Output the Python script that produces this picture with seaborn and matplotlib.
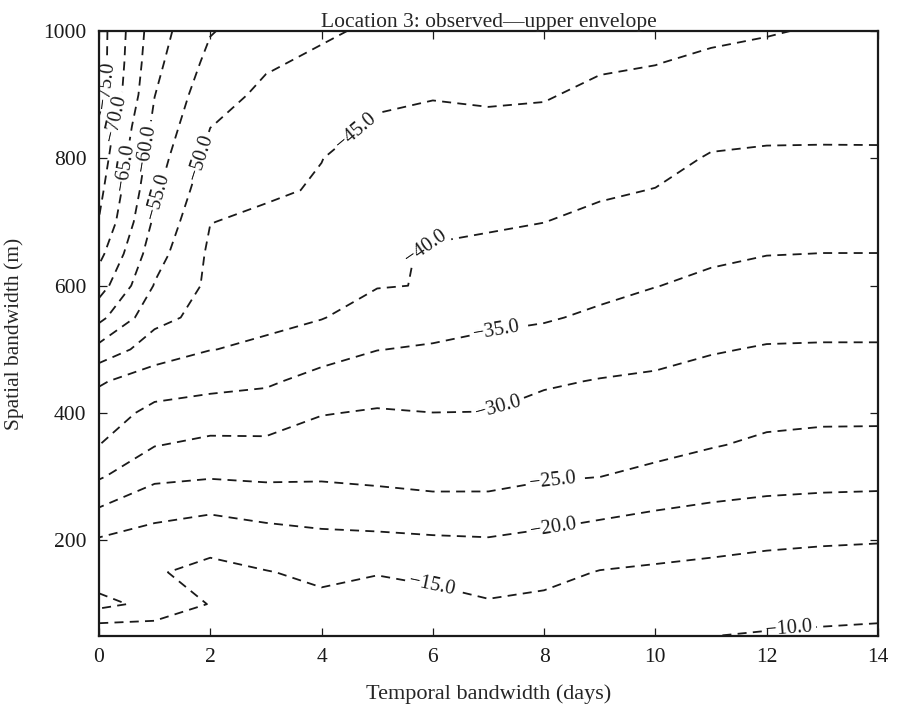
import numpy as np
import matplotlib
matplotlib.use("Agg")
import matplotlib.pyplot as plt
import seaborn as sns

# Grid: temporal bandwidth (days) x spatial bandwidth (m)
days = list(range(0, 15))
spatial = list(range(50, 1001, 50))
levels = [-75, -70, -65, -60, -55, -50, -45, -40, -35, -30, -25, -20, -15, -10]

# Surface values per day column (bottom y=50 -> top y=1000)
z_d00 = [-10.65, -21.5, -17.1, -19.5, -24.8, -30.5, -35.05, -37.6, -40.5, -48.4,
         -56.4, -62.3, -66.4, -69.8, -71.3, -72.7, -74.0, -77.0, -77.3, -77.3]
z_d01 = [-11.8, -18.5, -15.5, -18.2, -21.5, -26.0, -30.2, -33.6, -37.6, -42.4,
         -46.5, -49.7, -52.0, -54.1, -55.9, -57.3, -58.8, -60.1, -61.3, -62.2]
z_d02 = [-12.5, -14.78, -13.4, -16.9, -20.7, -25.3, -28.9, -32.7, -36.5, -40.1,
         -43.3, -44.0, -44.2, -45.07, -46.7, -48.4, -50.07, -51.8, -53.6, -55.3]
z_d03 = [-12.0, -13.4, -14.8, -17.9, -21.7, -25.7, -29.1, -32.4, -35.7, -39.3,
         -40.9, -42.0, -43.2, -44.3, -45.5, -46.7, -47.9, -49.1, -50.5, -52.5]
z_d04 = [-12.5, -14.0, -15.9, -18.8, -22.1, -25.5, -27.8, -30.2, -33.4, -37.0,
         -40.2, -41.5, -42.8, -44.0, -44.7, -45.05, -46.3, -47.7, -49.2, -50.6]
z_d05 = [-12.2, -13.6, -15.15, -18.9, -22.8, -25.9, -27.7, -29.6, -32.2, -35.1,
         -37.9, -40.2, -41.1, -41.9, -42.8, -43.6, -44.5, -45.7, -47.5, -49.3]
z_d06 = [-12.0, -13.7, -15.9, -19.3, -23.5, -26.3, -28.1, -29.96, -32.2, -34.5,
         -37.1, -39.84, -39.45, -41.0, -42.0, -43.0, -44.1, -45.2, -46.8, -48.3]
z_d07 = [-12.8, -14.6, -17.0, -19.6, -23.6, -26.2, -28.1, -29.9, -31.9, -34.0,
         -35.8, -37.4, -39.0, -40.5, -41.7, -43.0, -44.2, -45.5, -46.8, -48.0]
z_d08 = [-12.0, -14.0, -16.3, -18.8, -22.2, -25.5, -27.1, -28.7, -30.5, -33.1,
         -35.4, -37.0, -38.5, -40.03, -41.3, -42.6, -44.0, -45.3, -46.5, -47.8]
z_d09 = [-11.3, -13.0, -14.8, -17.8, -21.2, -25.02, -26.6, -28.2, -29.8, -32.0,
         -34.3, -36.1, -37.6, -39.1, -40.5, -41.7, -43.0, -44.2, -45.5, -46.8]
z_d10 = [-10.7, -12.5, -14.3, -17.0, -20.2, -24.0, -26.2, -27.8, -29.4, -31.2,
         -33.1, -35.1, -36.7, -38.3, -39.9, -41.2, -42.5, -43.8, -45.1, -46.2]
z_d11 = [-10.02, -11.98, -13.9, -16.3, -19.4, -22.5, -25.3, -27.0, -28.6, -30.3,
         -32.2, -34.1, -35.7, -37.0, -38.3, -39.7, -41.2, -42.8, -44.3, -45.8]
z_d12 = [-9.8, -11.05, -13.3, -15.8, -18.9, -21.7, -24.2, -26.2, -28.0, -29.7,
         -31.5, -33.3, -35.1, -36.5, -38.0, -39.4, -40.9, -42.3, -43.7, -45.3]
z_d13 = [-9.5, -11.2, -13.2, -15.4, -18.6, -21.4, -23.8, -25.9, -27.8, -29.6,
         -31.4, -33.2, -34.96, -36.5, -37.9, -39.4, -40.8, -42.1, -43.3, -44.6]
z_d14 = [-9.3, -11.05, -13.1, -15.2, -18.4, -21.3, -23.7, -25.9, -27.7, -29.6,
         -31.4, -33.2, -34.96, -36.5, -38.0, -39.5, -40.7, -41.8, -42.9, -44.0]

Z = np.column_stack([z_d00, z_d01, z_d02, z_d03, z_d04, z_d05, z_d06, z_d07,
                     z_d08, z_d09, z_d10, z_d11, z_d12, z_d13, z_d14])

# label anchor points (layout)
label_pos = [(0.2, 915), (0.41, 860), (0.52, 785), (0.92, 815), (1.06, 740),
             (1.85, 800), (4.55, 849), (5.9, 656), (7.15, 525), (7.17, 408),
             (8.16, 287), (8.16, 225), (6.0, 137), (12.4, 62)]

sns.set_theme(style="ticks")
plt.rcParams["font.family"] = ["Liberation Serif", "DejaVu Serif"]
plt.rcParams["lines.scale_dashes"] = False
plt.rcParams["lines.dashed_pattern"] = [6.5, 4.5]
plt.rcParams["contour.negative_linestyle"] = "dashed"

fig = plt.figure(figsize=(8.98, 7.05), dpi=100)
ax = fig.add_axes([0.1102, 0.0979, 0.8675, 0.8582])

cs = ax.contour(days, spatial, Z, levels=levels, colors="k", linewidths=1.3)
ax.clabel(cs, fmt=lambda v: "\u2212%.1f" % abs(v), fontsize=14.5, inline=True,
          inline_spacing=4, manual=label_pos)

ax.set_xlim(0, 14)
ax.set_ylim(50, 1000)
ax.set_xticks(range(0, 15, 2))
ax.set_yticks([200, 400, 600, 800, 1000])
ax.tick_params(direction="in", top=True, right=True, length=6, width=0.9,
               labelsize=15.5, pad=9, colors="k")
for s in ax.spines.values():
    s.set_linewidth(1.6)
    s.set_color("k")

ax.set_title("Location 3: observed\u2014upper envelope", fontsize=15.5, pad=3)
ax.set_xlabel("Temporal bandwidth (days)", fontsize=16, labelpad=12)
ax.set_ylabel("Spatial bandwidth (m)", fontsize=15.5, labelpad=14)

fig.savefig("out.png", dpi=100)
